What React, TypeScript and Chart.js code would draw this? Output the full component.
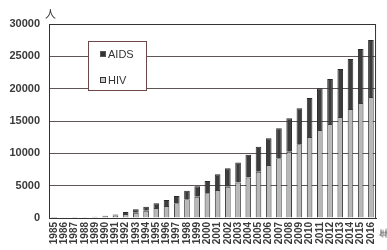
import React, { useEffect, useRef } from "react";
import { Chart, registerables } from "chart.js";

Chart.register(...registerables);

const years = [
  "1985", "1986", "1987", "1988", "1989", "1990", "1991", "1992",
  "1993", "1994", "1995", "1996", "1997", "1998", "1999", "2000",
  "2001", "2002", "2003", "2004", "2005", "2006", "2007", "2008",
  "2009", "2010", "2011", "2012", "2013", "2014", "2015", "2016",
];

const hivValues = [
  15, 25, 45, 60, 110, 210, 380, 620,
  830, 1130, 1530, 1860, 2270, 2890, 3300, 3820,
  4330, 4850, 5500, 6250, 7160, 8200, 9230, 10260,
  11400, 12520, 13600, 14530, 15620, 16850, 17780, 18710,
];

const aidsValues = [
  15, 25, 35, 50, 90, 130, 180, 310,
  530, 620, 740, 920, 1130, 1340, 1600, 1900,
  2420, 2830, 3080, 3540, 3870, 4120, 4640, 5150,
  5560, 6040, 6450, 6960, 7420, 7740, 8350, 8810,
];

const yTicks = [0, 5000, 10000, 15000, 20000, 25000, 30000];

const framePlugin = {
  id: "frame",
  afterDraw(chart: any) {
    const { ctx, chartArea } = chart;
    ctx.save();
    ctx.strokeStyle = "#333";
    ctx.lineWidth = 1;
    ctx.beginPath();
    ctx.moveTo(chartArea.left, chartArea.top + 0.5);
    ctx.lineTo(chartArea.right - 0.5, chartArea.top + 0.5);
    ctx.lineTo(chartArea.right - 0.5, chartArea.bottom);
    ctx.stroke();
    ctx.restore();
  },
};

export default function App() {
  const canvasRef = useRef<HTMLCanvasElement | null>(null);

  useEffect(() => {
    document.body.style.margin = "0";
    const canvas = canvasRef.current;
    if (!canvas) return;
    const chart = new Chart(canvas, {
      type: "bar",
      data: {
        labels: years,
        datasets: [
          {
            label: "HIV",
            data: hivValues,
            backgroundColor: "#b8b8b8",
            borderColor: "#3a3a3a",
            borderWidth: 1,
            barPercentage: 0.55,
            categoryPercentage: 1,
          },
          {
            label: "AIDS",
            data: aidsValues,
            backgroundColor: "#3c3c3c",
            borderColor: "#2a2a2a",
            borderWidth: 1,
            barPercentage: 0.55,
            categoryPercentage: 1,
          },
        ],
      },
      options: {
        responsive: false,
        animation: false,
        layout: { padding: { left: 0, top: 24, right: 5, bottom: 0 } },
        plugins: {
          legend: { display: false },
          tooltip: { enabled: false },
        },
        scales: {
          x: {
            stacked: true,
            grid: { display: false, drawTicks: false },
            border: { color: "#333", width: 1 },
            ticks: {
              autoSkip: false,
              maxRotation: 90,
              minRotation: 90,
              padding: 4,
              color: "#3a3a3a",
              font: { family: "Liberation Sans", size: 10, weight: "bold" },
            },
            afterFit(scale: any) {
              scale.height = 32;
            },
          },
          y: {
            stacked: true,
            min: 0,
            max: 30000,
            afterBuildTicks(scale: any) {
              scale.ticks = yTicks.map((v) => ({ value: v }));
            },
            grid: { color: "#5e5656", lineWidth: 1, drawTicks: false },
            border: { color: "#333", width: 1 },
            ticks: {
              padding: 9,
              color: "#3a3a3a",
              font: { family: "Liberation Sans", size: 11, weight: "bold" },
              callback: (v: any) => String(v),
            },
            afterFit(scale: any) {
              scale.width = 49;
            },
          },
        },
      },
      plugins: [framePlugin],
    });
    return () => chart.destroy();
  }, []);

  return (
    <div style={{ position: "relative", width: 387, height: 250, overflow: "hidden", background: "#fff" }}>
      <canvas ref={canvasRef} width={387} height={250} style={{ display: "block" }} />
      <span
        style={{
          position: "absolute",
          left: 45,
          top: 6,
          fontFamily: "'Noto Sans CJK JP'",
          fontSize: 11,
          color: "#333",
          lineHeight: "14px",
        }}
      >
        人
      </span>
      <span
        style={{
          position: "absolute",
          left: 380,
          top: 228,
          fontFamily: "'Noto Sans CJK JP'",
          fontSize: 9,
          color: "#333",
          lineHeight: "10px",
          transform: "rotate(-90deg)",
        }}
      >
        年
      </span>
      <div
        style={{
          position: "absolute",
          left: 88,
          top: 41,
          width: 57,
          height: 48,
          border: "1px solid #6e4848",
          background: "#fff",
          fontFamily: "Liberation Sans",
          fontSize: 11,
          color: "#333",
        }}
      >
        <div style={{ position: "absolute", left: 11, top: 5, lineHeight: "14px", display: "flex", alignItems: "center" }}>
          <span style={{ display: "inline-block", width: 4, height: 4, background: "#333", border: "1px solid #555", marginRight: 2 }} />
          AIDS
        </div>
        <div style={{ position: "absolute", left: 11, top: 31, lineHeight: "14px", display: "flex", alignItems: "center" }}>
          <span style={{ display: "inline-block", width: 4, height: 4, background: "#ccc", border: "1px solid #333", marginRight: 2 }} />
          HIV
        </div>
      </div>
    </div>
  );
}
